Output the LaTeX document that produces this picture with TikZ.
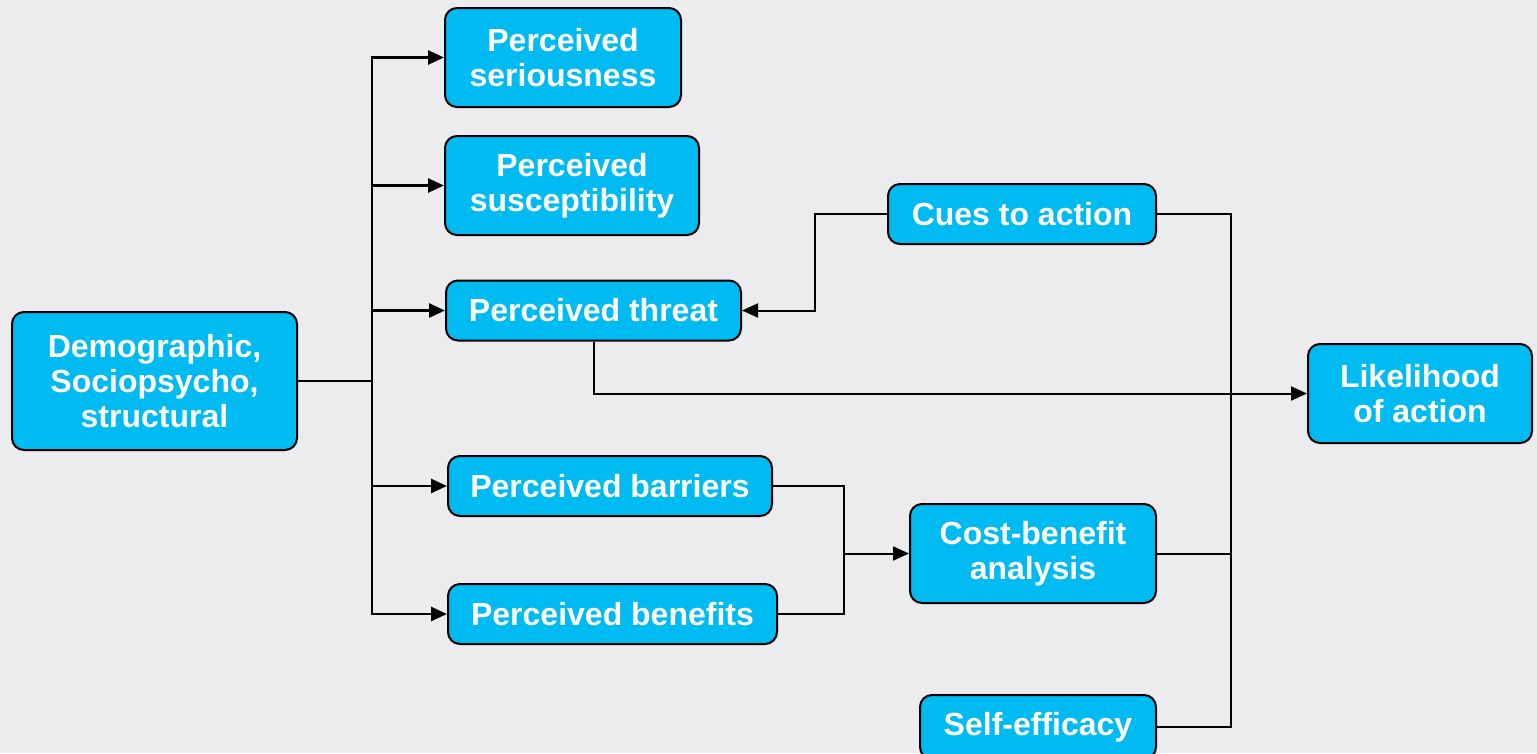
\documentclass[tikz,border=0pt]{standalone}
\usepackage{fontspec}
\setmainfont{Liberation Sans}
\usetikzlibrary{arrows.meta}
\definecolor{boxblue}{RGB}{0,186,242}
\definecolor{bggray}{RGB}{236,236,238}
\tikzset{
  hbox/.style={draw=black, line width=2pt, fill=boxblue, rounded corners=12pt,
    text=white, font=\fontsize{32}{35}\selectfont\bfseries, align=center,
    inner sep=0pt, anchor=center},
  thick conn/.style={line width=2.6pt, draw=black},
  thin conn/.style={line width=2pt, draw=black},
  tip/.style={-{Triangle[length=16pt,width=14pt]}}
}
\begin{document}
\begin{tikzpicture}[x=1pt,y=-1pt]
\fill[bggray] (0,0) rectangle (1537,753);
\useasboundingbox (0,0) rectangle (1537,753);

\node[hbox, minimum width=285pt, minimum height=138pt] (demo) at (154.5,381) {Demographic,\\Sociopsycho,\\structural};
\node[hbox, minimum width=236pt, minimum height=99pt] (seri) at (563,57.5) {Perceived\\seriousness};
\node[hbox, minimum width=254pt, minimum height=99pt] (susc) at (572,185.5) {Perceived\\susceptibility};
\node[hbox, minimum width=295pt, minimum height=60pt] (threat) at (593.5,310.5) {Perceived threat};
\node[hbox, minimum width=324pt, minimum height=60pt] (barr) at (610,486) {Perceived barriers};
\node[hbox, minimum width=329pt, minimum height=60pt] (ben) at (612.5,614) {Perceived benefits};
\node[hbox, minimum width=268pt, minimum height=60pt] (cues) at (1022,214) {Cues to action};
\node[hbox, minimum width=246pt, minimum height=99pt] (cost) at (1033,553.5) {Cost-benefit\\analysis};
\node[hbox, minimum width=236pt, minimum height=64pt] (self) at (1038,727) {Self-efficacy};
\node[hbox, minimum width=224pt, minimum height=99pt] (like) at (1420,393.5) {Likelihood\\of action};

\coordinate (trunk) at (372,381);
\coordinate (cj) at (815,214);
\coordinate (rtop) at (1231,214);
\coordinate (rbot) at (1231,727);
\coordinate (mj) at (844,553.5);

\draw[thick conn] (demo.east) -- (trunk);
\draw[thick conn, tip] (trunk) |- (seri.west);
\draw[thick conn, tip] (trunk) |- (susc.west);
\draw[thick conn, tip] (trunk) |- (threat.west);
\draw[thick conn, tip] (trunk) |- (barr.west);
\draw[thick conn, tip] (trunk) |- (ben.west);

\draw[thin conn, tip] (threat.south) |- (like.west);
\draw[thin conn, tip] (cues.west) -- (cj) |- (threat.east);
\draw[thin conn] (cues.east) -- (rtop) -- (rbot) -- (self.east);
\draw[thin conn] (cost.east) -- (rtop |- cost.east);
\draw[thin conn] (barr.east) -| (mj);
\draw[thin conn] (ben.east) -| (mj);
\draw[thin conn, tip] (mj) -- (cost.west);
\end{tikzpicture}
\end{document}
